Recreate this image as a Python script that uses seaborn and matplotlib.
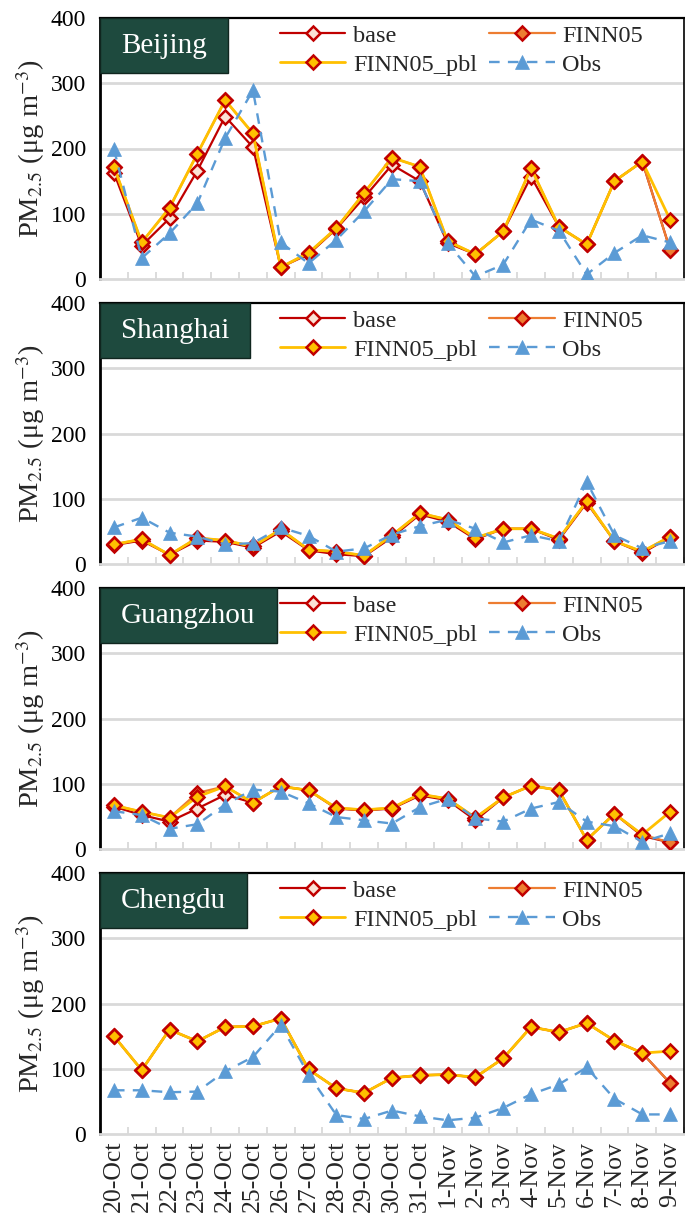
import numpy as np
import pandas as pd
import matplotlib
matplotlib.use("Agg")
import matplotlib.pyplot as plt
import seaborn as sns
from matplotlib.patches import Rectangle
from matplotlib.lines import Line2D

# ---------------- data ----------------
dates = ["20-Oct", "21-Oct", "22-Oct", "23-Oct", "24-Oct", "25-Oct", "26-Oct",
         "27-Oct", "28-Oct", "29-Oct", "30-Oct", "31-Oct", "1-Nov", "2-Nov",
         "3-Nov", "4-Nov", "5-Nov", "6-Nov", "7-Nov", "8-Nov", "9-Nov"]
cities = ["Beijing", "Shanghai", "Guangzhou", "Chengdu"]
series_names = ["base", "FINN05", "FINN05_pbl", "Obs"]

beijing_base = [163, 51, 93, 166, 249, 202, 18, 38, 77, 125, 175, 150, 55, 38, 73, 157, 80, 53, 150, 180, 45]
beijing_finn05 = [172, 56, 109, 192, 274, 223, 18, 40, 78, 132, 186, 172, 58, 38, 73, 170, 80, 53, 150, 180, 45]
beijing_pbl = [172, 56, 109, 192, 274, 223, 18, 40, 78, 132, 186, 172, 58, 38, 73, 170, 80, 53, 150, 180, 91]
beijing_obs = [199, 32, 70, 116, 216, 289, 56, 24, 60, 104, 153, 150, 55, 4, 22, 91, 74, 7, 40, 67, 56]

shanghai_base = [29, 36, 14, 36, 34, 25, 50, 21, 15, 12, 41, 76, 65, 38, 54, 54, 37, 94, 35, 17, 41]
shanghai_finn05 = [30, 38, 14, 40, 36, 27, 53, 22, 19, 13, 44, 78, 68, 40, 54, 54, 39, 96, 35, 19, 42]
shanghai_pbl = [30, 38, 14, 40, 36, 27, 53, 22, 19, 13, 44, 78, 68, 40, 54, 54, 39, 96, 35, 19, 42]
shanghai_obs = [56, 71, 48, 42, 30, 32, 56, 43, 19, 24, 45, 58, 68, 54, 33, 44, 35, 126, 44, 24, 35]

guangzhou_base = [65, 52, 42, 62, 83, 71, 96, 90, 62, 59, 62, 82, 75, 44, 79, 97, 90, 14, 54, 20, 10]
guangzhou_finn05 = [67, 57, 48, 86, 96, 71, 96, 90, 63, 60, 63, 84, 77, 48, 79, 97, 90, 14, 54, 22, 10]
guangzhou_pbl = [67, 57, 48, 80, 96, 71, 96, 90, 63, 60, 63, 84, 77, 48, 79, 97, 90, 14, 54, 22, 57]
guangzhou_obs = [58, 52, 31, 38, 68, 91, 88, 70, 49, 44, 39, 64, 77, 47, 42, 62, 72, 42, 35, 11, 24]

chengdu_base = [150, 98, 160, 142, 164, 165, 177, 99, 70, 63, 86, 90, 91, 87, 116, 164, 156, 170, 143, 124, 78]
chengdu_finn05 = [150, 98, 160, 142, 164, 165, 177, 99, 70, 63, 86, 90, 91, 87, 116, 164, 156, 170, 143, 124, 78]
chengdu_pbl = [150, 98, 160, 142, 164, 165, 177, 99, 70, 63, 86, 90, 91, 87, 116, 164, 156, 170, 143, 124, 127]
chengdu_obs = [67, 67, 64, 65, 96, 118, 167, 91, 29, 23, 36, 27, 21, 25, 40, 61, 76, 102, 54, 30, 30]

y_ticks = [0, 100, 200, 300, 400]

city_data = {
    "Beijing": [beijing_base, beijing_finn05, beijing_pbl, beijing_obs],
    "Shanghai": [shanghai_base, shanghai_finn05, shanghai_pbl, shanghai_obs],
    "Guangzhou": [guangzhou_base, guangzhou_finn05, guangzhou_pbl, guangzhou_obs],
    "Chengdu": [chengdu_base, chengdu_finn05, chengdu_pbl, chengdu_obs],
}

# ---------------- styles ----------------
styles = {
    "base": dict(color="#C00000", marker="D", markersize=7.5, markerfacecolor="#FBE3D6",
                 markeredgecolor="#C00000", markeredgewidth=1.8, linewidth=1.6),
    "FINN05": dict(color="#ED7D31", marker="D", markersize=7.5, markerfacecolor="#ED7D31",
                   markeredgecolor="#C00000", markeredgewidth=1.8, linewidth=1.6),
    "FINN05_pbl": dict(color="#FFC000", marker="D", markersize=7.5, markerfacecolor="#FFC000",
                       markeredgecolor="#C00000", markeredgewidth=1.8, linewidth=2.0),
    "Obs": dict(color="#5B9BD5", marker="^", markersize=9.5, markerfacecolor="#5B9BD5",
                markeredgecolor="#5B9BD5", markeredgewidth=0.5, linewidth=1.7),
}
obs_dash = [4.5, 3.5]

sns.set_theme(style="white")
plt.rcParams["font.family"] = ["Liberation Serif", "DejaVu Serif"]
plt.rcParams["mathtext.fontset"] = "stix"

W, H = 685, 1217
fig = plt.figure(figsize=(W / 100, H / 100), dpi=100)

panel_tops = [18, 303, 588, 873]
panel_h = 261
left_px, right_px = 100, 684
grid_col = "#D9D9D9"
box_col = "#1E4A3E"

x = np.arange(len(dates))
axes = []
for i, city in enumerate(cities):
    top = panel_tops[i]
    ax = fig.add_axes([left_px / W, 1 - (top + panel_h) / H,
                       (right_px - left_px) / W, panel_h / H])
    axes.append(ax)
    handles = {}
    for name, vals in zip(series_names, city_data[city]):
        df = pd.DataFrame({"x": x, "y": vals})
        sns.lineplot(data=df, x="x", y="y", ax=ax, legend=False, zorder=3, **styles[name])
        ln = ax.lines[-1]
        h = Line2D([], [], **styles[name])
        if name == "Obs":
            ln.set_dashes(obs_dash)
            h.set_dashes(obs_dash)
        handles[name] = h

    ax.set_xlim(-0.5, len(dates) - 0.5)
    ax.set_ylim(0, 400)
    ax.set_yticks(y_ticks)
    ax.set_yticklabels([str(v) for v in y_ticks], fontsize=17)
    ax.tick_params(axis="y", length=0, pad=10, colors="black")
    for yv in y_ticks[1:-1]:
        ax.axhline(yv, color=grid_col, lw=2.0, zorder=1)
    ax.set_xticks(x)
    ax.set_xticks(np.arange(-0.5, len(dates), 1.0), minor=True)
    ax.tick_params(axis="x", which="major", length=0)
    ax.tick_params(axis="x", which="minor", direction="in", length=5, width=1.3,
                   color=grid_col, bottom=True)
    if i == len(cities) - 1:
        ax.set_xticklabels(dates, rotation=90, fontsize=18.5, va="top")
        ax.tick_params(axis="x", which="major", pad=5)
    else:
        ax.set_xticklabels([])
    ax.set_xlabel("")
    ax.set_ylabel("PM$_{2.5}$ (μg m$^{-3}$)", fontsize=20.5, labelpad=3)

    for s in ["left", "top", "right"]:
        ax.spines[s].set_visible(True)
        ax.spines[s].set_color("black")
    ax.spines["left"].set_linewidth(2.0)
    ax.spines["top"].set_linewidth(1.6)
    ax.spines["right"].set_linewidth(1.2)
    ax.spines["bottom"].set_color(grid_col)
    ax.spines["bottom"].set_linewidth(2.0)

    # legend filled column-wise -> order so rows read: base, FINN05 / FINN05_pbl, Obs
    order = ["base", "FINN05_pbl", "FINN05", "Obs"]
    leg = ax.legend([handles[n] for n in order], order, ncol=2, loc="upper left",
                    bbox_to_anchor=(0.308, 0.975), frameon=False, fontsize=17.5,
                    handlelength=2.7, handletextpad=0.3, columnspacing=0.5,
                    labelspacing=0.3, borderpad=0, borderaxespad=0)
    leg.set_zorder(5)

    # city title box
    txt = ax.text(21 / (right_px - left_px), 1 - 28 / panel_h, city,
                  transform=ax.transAxes, ha="left", va="center", color="white",
                  fontsize=21, zorder=8)
    ax._city_txt = txt

fig.canvas.draw()
renderer = fig.canvas.get_renderer()
for ax in axes:
    bb = ax._city_txt.get_window_extent(renderer)
    wpx = bb.width + 42
    r = Rectangle((0, 1 - 55 / panel_h), wpx / (right_px - left_px), 55 / panel_h,
                  transform=ax.transAxes, facecolor=box_col, edgecolor="#10261F",
                  lw=1.0, zorder=7, clip_on=False)
    ax.add_patch(r)

fig.savefig("out.png", dpi=100)
